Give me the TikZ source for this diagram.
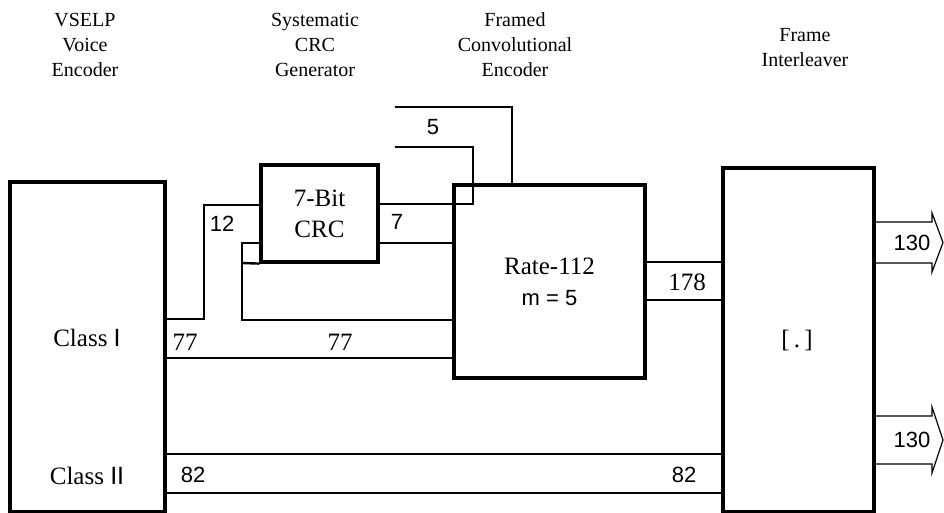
\documentclass[tikz,border=0pt]{standalone}
\usepackage{fontspec}
\setmainfont{Liberation Serif}
\newfontfamily\hv{Liberation Sans}
\usetikzlibrary{calc}
\usetikzlibrary{positioning}
\tikzset{blk/.style={draw=black,line width=3.2pt,inner sep=0pt}}
\tikzset{bus/.style={draw=black,line width=1.2pt}}
\tikzset{num/.style={font=\hv\fontsize{22}{24}\selectfont,inner sep=0pt}}
\tikzset{lbl/.style={font=\fontsize{25}{31}\selectfont,inner sep=0pt,align=center}}
\tikzset{ttl/.style={font=\fontsize{20}{25}\selectfont,inner sep=0pt,align=center}}

\begin{document}
\begin{tikzpicture}[x=1pt,y=-1pt]
\useasboundingbox (0,0) rectangle (944,513);
% blocks
\node[blk, minimum width=155, minimum height=330] (vse) at (87.5,347) {};
\node[blk, minimum width=117, minimum height=97] (crc) at (319.5,213.5) {};
\node[blk, minimum width=191, minimum height=193] (cnv) at (549.5,281.5) {};
\node[blk, minimum width=151, minimum height=344] (ilv) at (798.5,340) {};
%\node[lbl] (crct) at (crc) {7-Bit CRC};
\node[lbl] (crct) at (crc) {7-Bit\\CRC};
\node[lbl] (cnvt) at (cnv) {Rate-112\\{\hv\fontsize{22}{31}\selectfont m = 5}};
\node[lbl] (ilvt) at (797,340) {[\,.\,]};
\node[lbl] (c1) at (87,338) {Class {\hv I}};
\node[lbl] (c2) at (87,476) {Class {\hv II}};
% titles
\node[ttl] (tv) at (85,45) {VSELP\\Voice\\Encoder};
\node[ttl] (tc) at (315,45) {Systematic\\CRC\\Generator};
\node[ttl] (tf) at (515,45) {Framed\\Convolutional\\Encoder};
\node[ttl] (ti) at (805,48) {Frame\\Interleaver};
% free ends
\coordinate (t5a) at (395,107);
\coordinate (t5b) at (395,147);
\coordinate (o1) at (943,242.5);
\coordinate (o2) at (943,440);

\draw[bus] (vse.east |- 0,319) -| (204,205) -- (crc.west |- 0,205);
\draw[bus] (crc.west |- 0,243) -- (242,243) -- (242,320) -- (cnv.west |- 0,320);
\draw[line width=2.4pt] (crc.south west) -- (242,263);
\draw[bus] (vse.east |- 0,358) -- (cnv.west |- 0,358);
\draw[bus] (crc.east |- 0,243) -- (cnv.west |- 0,243);
\draw[bus] (crc.east |- 0,204) -| (473,147) -- (t5b);
\draw[bus] (t5a) -| (cnv.north -| 512,0);
\draw[bus] (cnv.east |- 0,262) -- (ilv.west |- 0,262);
\draw[bus] (cnv.east |- 0,300) -- (ilv.west |- 0,300);
\draw[bus] (vse.east |- 0,454) -- (ilv.west |- 0,454);
\draw[bus] (vse.east |- 0,493) -- (ilv.west |- 0,493);
\draw[bus] (ilv.east |- 0,222) -- (932,222) -- (932,213) -- (o1) -- (932,272) -- (932,263) -- (ilv.east |- 0,263);
\draw[bus] (ilv.east |- 0,416) -- (932,416) -- (932,407) -- (o2) -- (932,473) -- (932,464) -- (ilv.east |- 0,464);

\node[num] (n12) at (222,224) {12};
\node[num] (n7) at (397,222) {7};
\node[num] (n5) at (433,127) {5};
\node[lbl] (n77a) at (185,342) {77};
\node[lbl] (n77b) at (340,342) {77};
\node[lbl] (n178) at (687,282) {178};
\node[num] (n82a) at (193,475) {82};
\node[num] (n82b) at (684,475) {82};
\node[num] (n130a) at (912,243) {130};
\node[num] (n130b) at (912,440) {130};
\end{tikzpicture}
\end{document}
